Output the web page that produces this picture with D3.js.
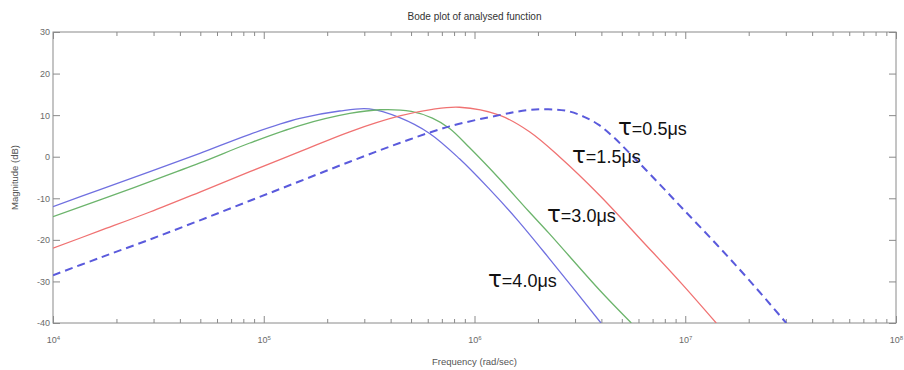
<!DOCTYPE html>
<html>
<head>
<meta charset="utf-8">
<script src="https://cdn.jsdelivr.net/npm/d3@7"></script>
<style>
  body { margin: 0; background: #fff; }
  svg { display: block; }
  .axis path, .axis line { stroke: #8a8a8a; }
  .axis text { fill: #6a6a6a; font-family: "Liberation Sans", Arial, sans-serif; font-size: 9px; }
</style>
</head>
<body>
<svg id="chart"></svg>
<script>
// log10 of frequency (rad/sec) and magnitude (dB)
var logW_tau40 = [4.0, 4.223, 4.46, 4.697, 4.934, 5.171, 5.36, 5.5, 5.645, 5.787, 5.929, 6.071, 6.2, 6.355, 6.6];
var mag_tau40  = [-12.0, -7.9, -3.6, 0.8, 5.4, 9.2, 11.0, 11.5, 9.4, 5.6, -0.5, -7.8, -15.0, -24.5, -40];

var logW_tau30 = [4.0, 4.223, 4.46, 4.697, 4.934, 5.171, 5.408, 5.55, 5.7, 5.8, 5.882, 5.976, 6.118, 6.255, 6.355, 6.592, 6.744];
var mag_tau30  = [-14.4, -10.4, -6.0, -1.5, 3.3, 7.5, 10.4, 11.3, 10.9, 9.3, 6.8, 2.2, -5.3, -13.0, -18.5, -32.0, -40];

var logW_tau15 = [4.0, 4.223, 4.46, 4.697, 4.934, 5.171, 5.408, 5.645, 5.8, 5.929, 6.118, 6.261, 6.403, 6.592, 6.8, 6.986, 7.147];
var mag_tau15  = [-22.0, -17.8, -13.3, -8.5, -3.6, 1.2, 6.0, 9.8, 11.4, 11.9, 10.0, 6.0, 0.0, -9.2, -20.5, -30.7, -40];

var logW_tau05 = [4.0, 4.223, 4.46, 4.697, 4.934, 5.171, 5.408, 5.645, 5.882, 6.118, 6.25, 6.35, 6.44, 6.52, 6.592, 6.66, 6.735, 6.863, 6.986, 7.147, 7.3, 7.479];
var mag_tau05  = [-28.5, -24.3, -19.9, -15.3, -10.6, -5.9, -1.2, 3.3, 7.3, 10.0, 11.2, 11.4, 11.0, 9.6, 7.6, 4.7, 0.9, -5.8, -12.4, -21.0, -29.5, -40];

var seriesColors = ["#7070e0", "#6cb46c", "#f07272", "#5a5adc"];
var labelText = ["4.0μs", "3.0μs", "1.5μs", "0.5μs"];

var xMajor = [1e4, 1e5, 1e6, 1e7, 1e8];
var yTicks = [-40, -30, -20, -10, 0, 10, 20, 30];

var W = 904, H = 370;
var margin = {left: 53, right: 8, top: 32, bottom: 47};

var svg = d3.select("#chart").attr("width", W).attr("height", H);

var x = d3.scaleLog().domain([1e4, 1e8]).range([margin.left, W - margin.right]);
var y = d3.scaleLinear().domain([-40, 30]).range([H - margin.bottom, margin.top]);

// minor ticks 2..9 in each decade
var xMinor = [];
for (var d = 4; d < 8; d++) {
  for (var k = 2; k <= 9; k++) xMinor.push(k * Math.pow(10, d));
}

var plotH = y(-40) - y(30);
var plotW = x(1e8) - x(1e4);

// frame
svg.append("rect")
  .attr("x", x(1e4)).attr("y", y(30))
  .attr("width", plotW).attr("height", plotH)
  .attr("fill", "none").attr("stroke", "#8a8a8a");

// bottom axis
var gx = svg.append("g").attr("class", "axis")
  .attr("transform", "translate(0," + y(-40) + ")")
  .call(d3.axisBottom(x).tickValues(xMajor).tickSize(-7).tickPadding(14));
gx.select(".domain").remove();
gx.selectAll("text").each(function(v) {
  var t = d3.select(this);
  t.text("10");
  t.append("tspan").attr("dy", "-0.6em").attr("font-size", "6px").text(Math.round(Math.log10(v)));
});
svg.append("g").attr("class", "axis")
  .attr("transform", "translate(0," + y(-40) + ")")
  .call(d3.axisBottom(x).tickValues(xMinor).tickSize(-4).tickFormat(""))
  .select(".domain").remove();

// top axis
svg.append("g").attr("class", "axis")
  .attr("transform", "translate(0," + y(30) + ")")
  .call(d3.axisTop(x).tickValues(xMajor).tickSize(-7).tickFormat(""))
  .select(".domain").remove();
svg.append("g").attr("class", "axis")
  .attr("transform", "translate(0," + y(30) + ")")
  .call(d3.axisTop(x).tickValues(xMinor).tickSize(-4).tickFormat(""))
  .select(".domain").remove();

// left / right axes
var gy = svg.append("g").attr("class", "axis")
  .attr("transform", "translate(" + x(1e4) + ",0)")
  .call(d3.axisLeft(y).tickValues(yTicks).tickSize(-7).tickPadding(3)
    .tickFormat(function(v) { return String(v); }));
gy.select(".domain").remove();
gy.selectAll("text").attr("x", -3);
svg.append("g").attr("class", "axis")
  .attr("transform", "translate(" + x(1e8) + ",0)")
  .call(d3.axisRight(y).tickValues(yTicks).tickSize(-7).tickFormat(""))
  .select(".domain").remove();

// curves
svg.append("clipPath").attr("id", "clip").append("rect")
  .attr("x", x(1e4)).attr("y", y(30)).attr("width", plotW).attr("height", plotH);

var line = d3.line()
  .x(function(p) { return x(Math.pow(10, p[0])); })
  .y(function(p) { return y(p[1]); })
  .curve(d3.curveCatmullRom.alpha(0.5));

var allLogW = [logW_tau40, logW_tau30, logW_tau15, logW_tau05];
var allMag = [mag_tau40, mag_tau30, mag_tau15, mag_tau05];

allLogW.forEach(function(lw, i) {
  var pts = lw.map(function(v, j) { return [v, allMag[i][j]]; });
  svg.append("path")
    .datum(pts)
    .attr("clip-path", "url(#clip)")
    .attr("fill", "none")
    .attr("stroke", seriesColors[i])
    .attr("stroke-width", i === 3 ? 2 : 1.3)
    .attr("stroke-dasharray", i === 3 ? "8,5" : null)
    .attr("d", line);
});

// curve labels
var labelPos = [[488, 287], [547, 222], [572, 163], [618, 135]];
labelPos.forEach(function(p, i) {
  var t = svg.append("text")
    .attr("x", p[0]).attr("y", p[1])
    .attr("font-family", "'Liberation Sans', Arial, sans-serif")
    .attr("font-size", "18px")
    .attr("fill", "#111");
  t.append("tspan").attr("font-size", "23px").attr("font-family", "'DejaVu Sans', sans-serif").text("τ");
  t.append("tspan").text("=" + labelText[i]);
});

// titles
svg.append("text")
  .attr("x", (x(1e4) + x(1e8)) / 2).attr("y", 20)
  .attr("text-anchor", "middle")
  .attr("font-family", "'Liberation Sans', Arial, sans-serif")
  .attr("font-size", "10px").attr("fill", "#333")
  .text("Bode plot of analysed function");

svg.append("text")
  .attr("x", (x(1e4) + x(1e8)) / 2).attr("y", 365)
  .attr("text-anchor", "middle")
  .attr("font-family", "'Liberation Sans', Arial, sans-serif")
  .attr("font-size", "9.5px").attr("fill", "#555")
  .text("Frequency  (rad/sec)");

svg.append("text")
  .attr("transform", "translate(18," + ((y(30) + y(-40)) / 2) + ") rotate(-90)")
  .attr("text-anchor", "middle")
  .attr("font-family", "'Liberation Sans', Arial, sans-serif")
  .attr("font-size", "9.5px").attr("fill", "#555")
  .text("Magnitude (dB)");
</script>
</body>
</html>
